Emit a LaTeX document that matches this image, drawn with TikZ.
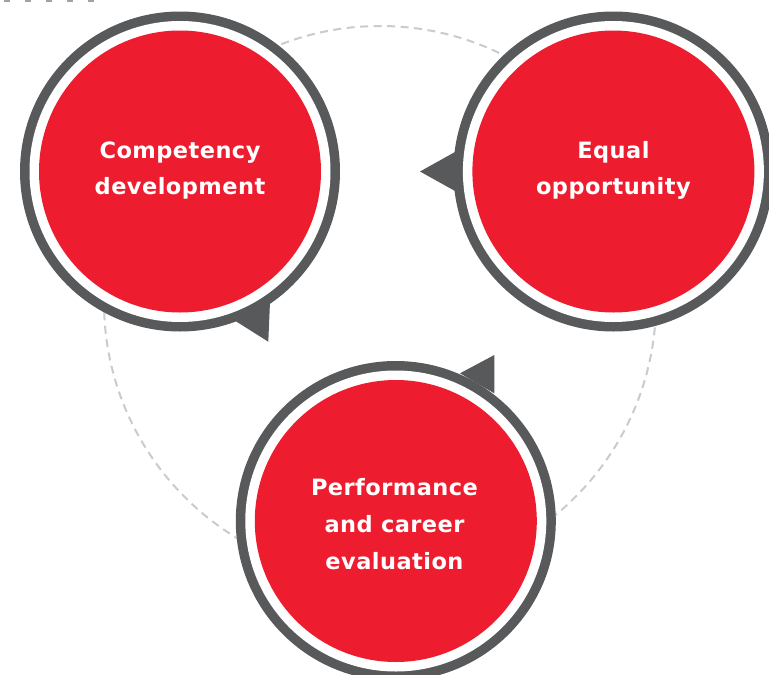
\documentclass[tikz,border=0pt]{standalone}
\usepackage{fontspec}
\newfontfamily\labfont{DejaVu Sans}[LetterSpace=2]
\definecolor{cred}{HTML}{ED1C2E}
\definecolor{cgray}{HTML}{58595B}
\definecolor{cdash}{HTML}{CBCBCB}
\begin{document}
\begin{tikzpicture}[x=1pt,y=-1pt,
  ringout/.style={fill=cgray},
  ringgap/.style={fill=white},
  disc/.style={fill=cred},
  pointer/.style={fill=cgray},
  lab/.style={text=white, align=center, inner sep=0pt,
    font=\labfont\bfseries\fontsize{22.5}{36.7}\selectfont},
  orbit/.style={draw=cdash, line width=2pt, dash pattern=on 8pt off 5.5pt}]
\useasboundingbox (0,0) rectangle (769,675);
\coordinate (A) at (180,171.5);
\coordinate (B) at (613.4,171.5);
\coordinate (C) at (395.8,521);
\coordinate (O) at (380,302);
% partial dashes at the top edge
\draw[draw=cdash!80!black, line width=2pt, dash pattern=on 6pt off 15pt] (4,0.5) -- (108,0.5);
% dashed orbit
\draw[orbit] (O) circle[radius=276pt];
% pointers
\fill[pointer] (235,320.7) -- (270,301.7) -- (268.3,341.7) -- cycle;
\fill[pointer] (420,171.5) -- (455,152) -- (455,191) -- cycle;
\fill[pointer] (460,373.3) -- (494.3,355) -- (494.3,393.3) -- cycle;
% circles
\foreach \c in {A,B,C}{
  \fill[ringout] (\c) circle[radius=160pt];
  \fill[ringgap] (\c) circle[radius=150.5pt];
  \fill[disc] (\c) circle[radius=141pt];
}
\node[lab] (ta) at (180,170.5) {Competency\\development};
\node[lab] (tb) at (613.4,170.5) {Equal\\opportunity};
\node[lab] (tc) at (394.5,524) {Performance\\and career\\evaluation};
\end{tikzpicture}
\end{document}
